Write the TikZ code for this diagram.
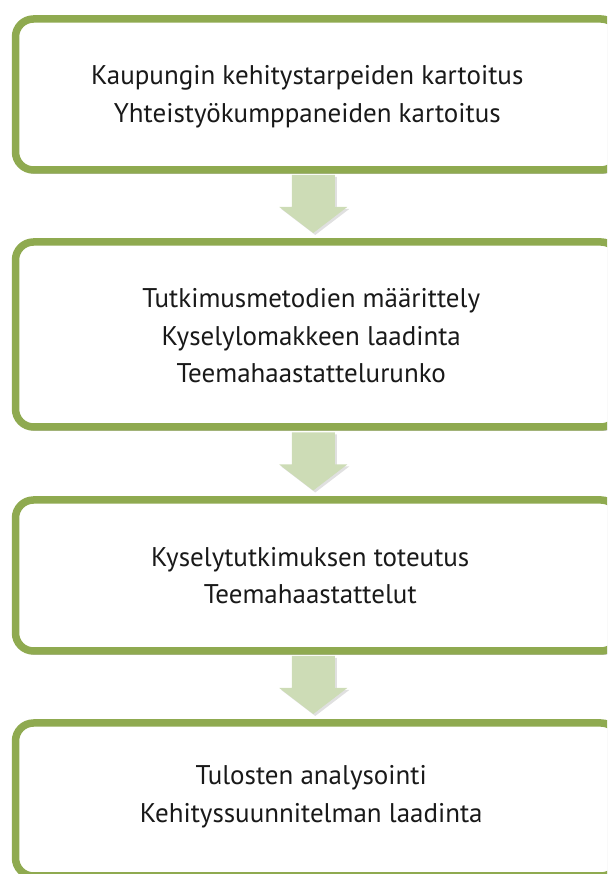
\documentclass[tikz,border=0pt]{standalone}
\usepackage{fontspec}
\setmainfont{PT Sans}
\usetikzlibrary{shadows,calc}
\definecolor{boxgreen}{RGB}{143,170,80}
\definecolor{arrowgreen}{RGB}{205,220,182}
\tikzset{
  stepbox/.style={draw=boxgreen, line width=7.5pt, fill=white, rounded corners=18pt,
    minimum width=603.5pt, inner sep=0pt, outer sep=0pt,
    drop shadow={shadow xshift=2pt, shadow yshift=-4pt, opacity=0.22, fill=black}},
  steptext/.style={align=center, inner sep=0pt, font=\fontsize{27}{37.5}\selectfont, text=black!90},
  pics/blockarrow/.style={code={
    \fill[black, opacity=0.12] (-19.5,29) -- (23.5,29) -- (23.5,-3) -- (36,-3) -- (2,-29) -- (-32,-3) -- (-19.5,-3) -- cycle;
    \fill[arrowgreen] (-21.5,31) -- (21.5,31) -- (21.5,-1) -- (34,-1) -- (0,-27) -- (-34,-1) -- (-21.5,-1) -- cycle;}}
}
\begin{document}
\begin{tikzpicture}[x=1pt,y=1pt]
\useasboundingbox (0,0) rectangle (607,874);
\clip (0,0) rectangle (607,874);
\node[stepbox, minimum height=151pt] (b1) at (317.25,779.5) {};
\node[stepbox, minimum height=185pt] (b2) at (317.25,539.5) {};
\node[stepbox, minimum height=151pt] (b3) at (317.25,298.5) {};
\node[stepbox, minimum height=153pt] (b4) at (317.25,74.5) {};
\node[steptext] (t1) at ([xshift=-10pt,yshift=-2pt]b1.center)
  {Kaupungin kehitystarpeiden kartoitus\\Yhteistyökumppaneiden kartoitus};
\node[steptext] (t2) at ([xshift=-6pt,yshift=-1.5pt]b2.center)
  {Tutkimusmetodien määrittely\\Kyselylomakkeen laadinta\\Teemahaastattelurunko};
\node[steptext] (t3) at ([xshift=-7pt]b3.center)
  {Kyselytutkimuksen toteutus\\Teemahaastattelut};
\node[steptext] (t4) at ([xshift=-6pt,yshift=3pt]b4.center)
  {Tulosten analysointi\\Kehityssuunnitelman laadinta};
\pic at ([xshift=-4pt]$(b1.south)!0.5!(b2.north)$) {blockarrow};
\pic at ([xshift=-4pt]$(b2.south)!0.5!(b3.north)$) {blockarrow};
\pic at ([xshift=-4pt]$(b3.south)!0.5!(b4.north)$) {blockarrow};
\end{tikzpicture}
\end{document}
